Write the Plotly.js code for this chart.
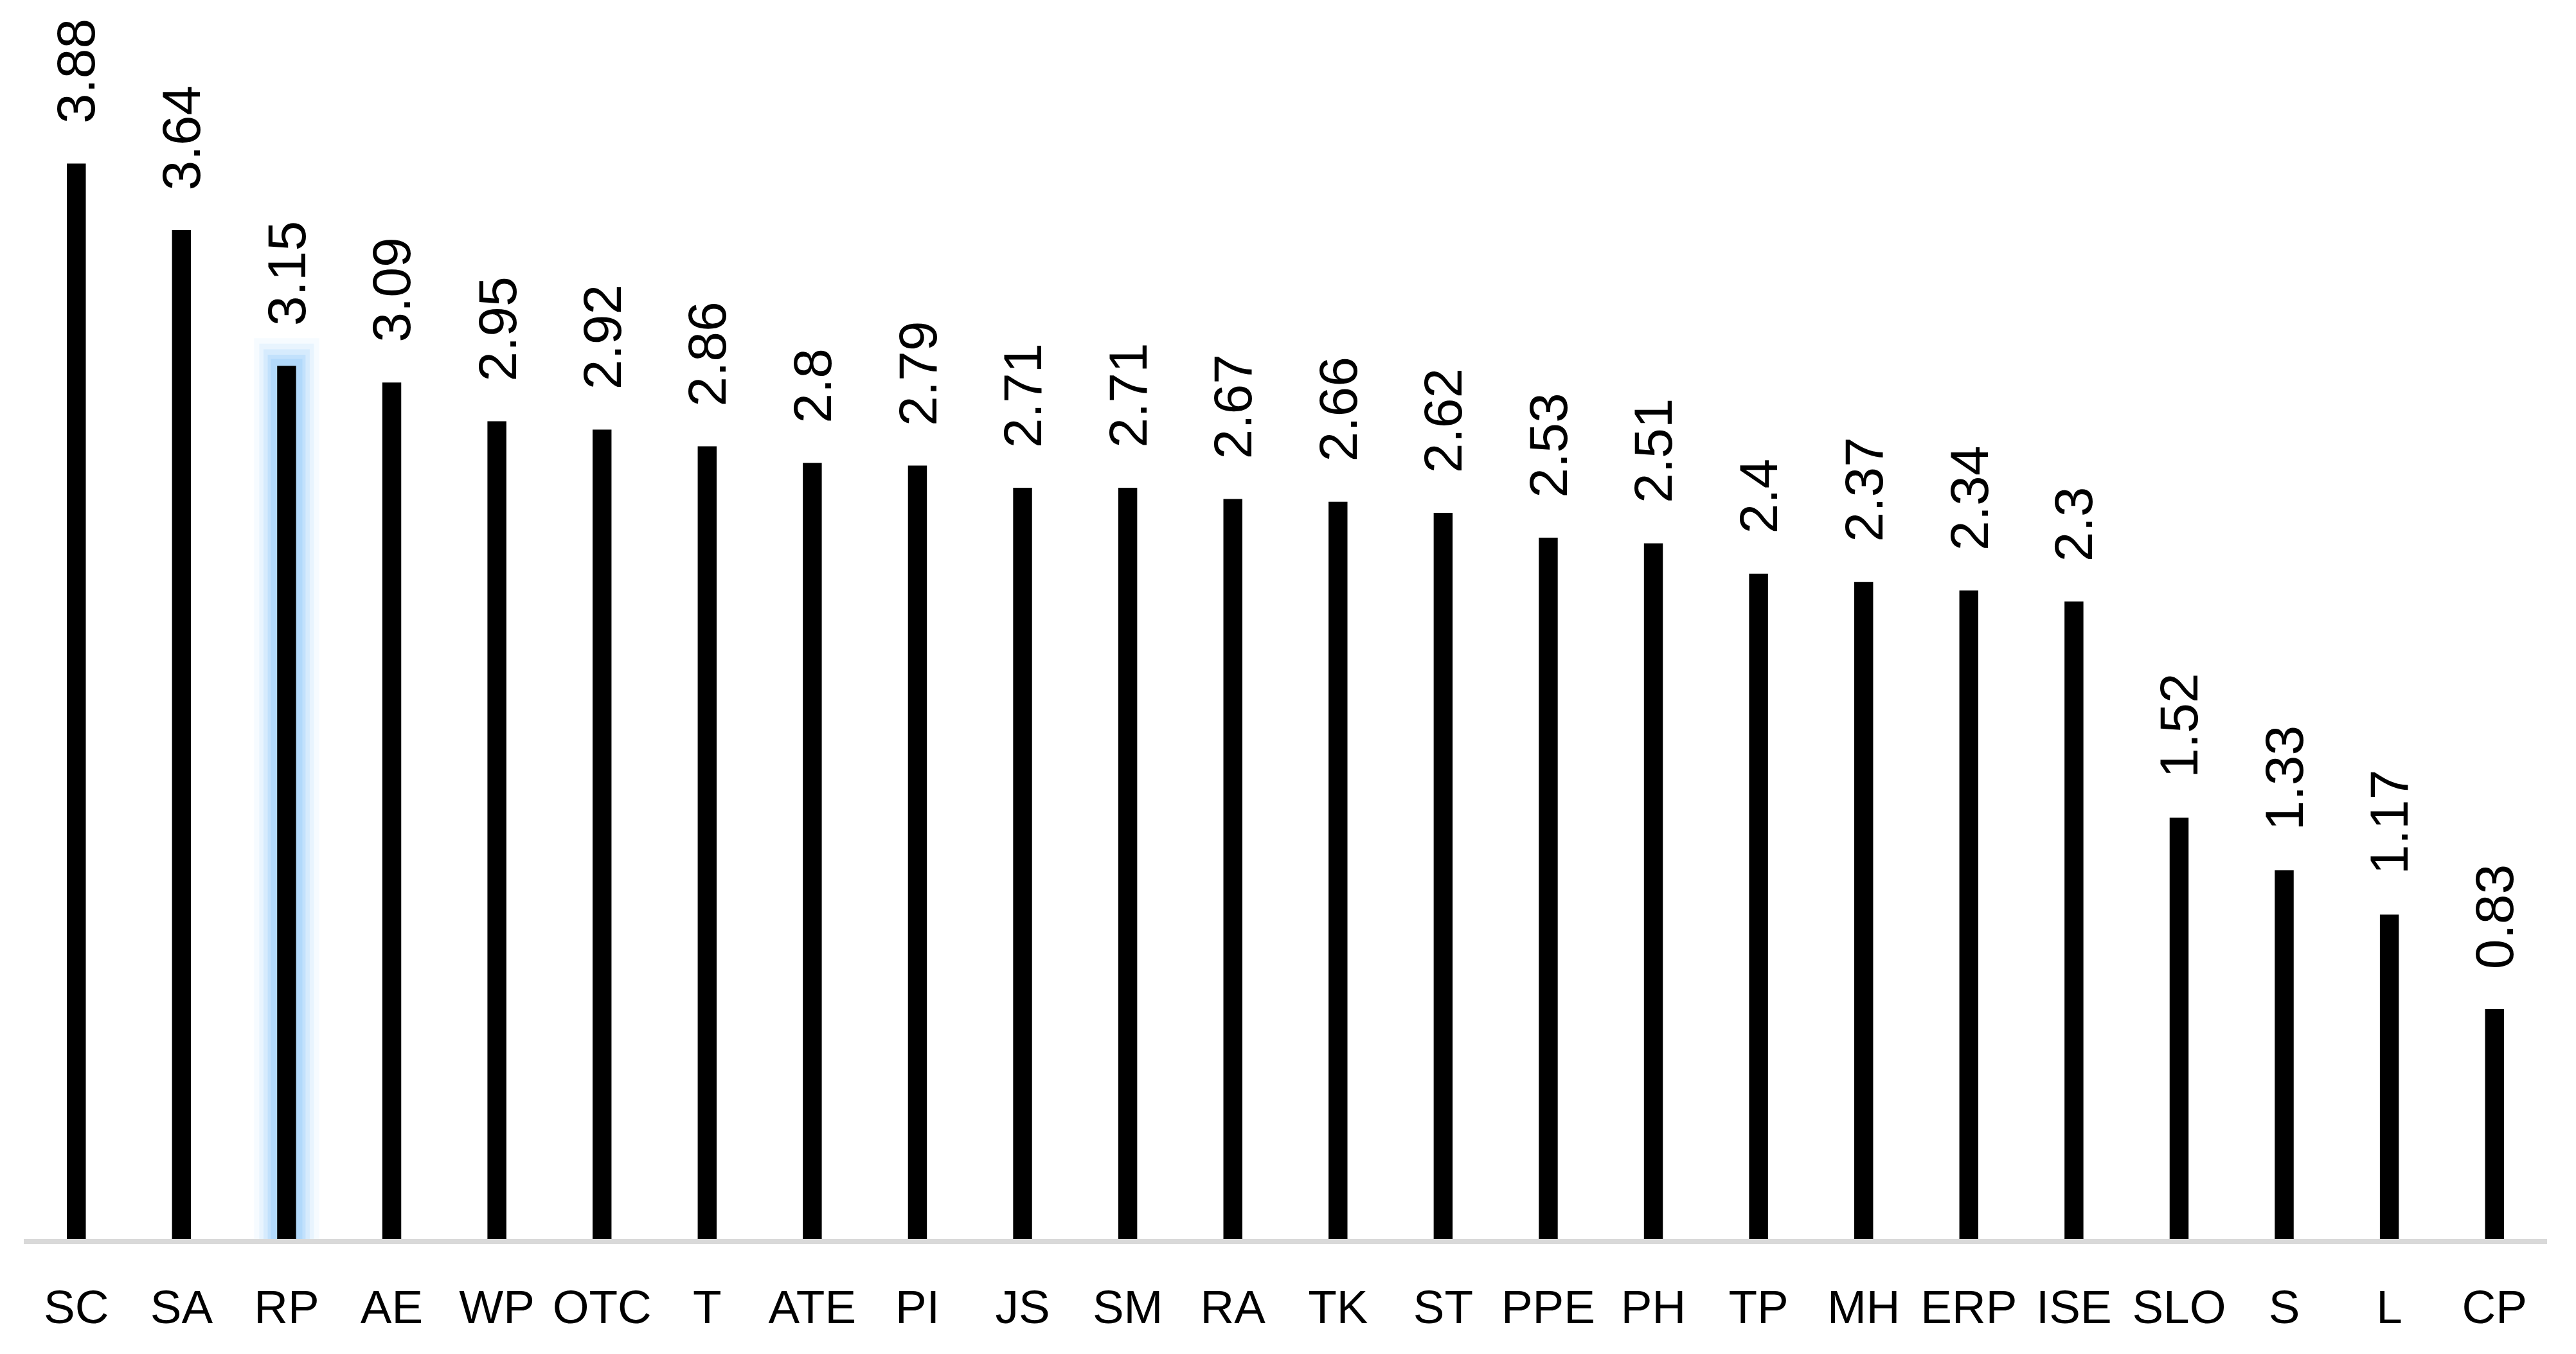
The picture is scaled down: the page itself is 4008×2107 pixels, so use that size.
<!DOCTYPE html>
<html>
<head>
<meta charset="utf-8">
<script src="https://cdn.plot.ly/plotly-3.0.1.min.js"></script>
<style>
  html, body { margin: 0; padding: 0; background: #fff; }
  #plotArea { width: 4008px; height: 2107px; }
</style>
</head>
<body>
<div id="plotArea"></div>
<script>
// categories and scores
var categories = ["SC", "SA", "RP", "AE", "WP", "OTC", "T", "ATE", "PI", "JS", "SM", "RA",
                  "TK", "ST", "PPE", "PH", "TP", "MH", "ERP", "ISE", "SLO", "S", "L", "CP"];
var scores = [3.88, 3.64, 3.15, 3.09, 2.95, 2.92, 2.86, 2.8, 2.79, 2.71, 2.71, 2.67,
              2.66, 2.62, 2.53, 2.51, 2.4, 2.37, 2.34, 2.3, 1.52, 1.33, 1.17, 0.83];
var highlighted = "RP";

// soft glow behind the highlighted bar: a few stacked layers, widest/palest first
var glowWidths = [0.62, 0.52, 0.44, 0.36, 0.30];
var glowPads = [0.10, 0.08, 0.06, 0.04, 0.025];
var glowColors = ["#f6fbff", "#e8f4fe", "#d6ebfd", "#c2e1fc", "#b2d9fb"];

var glowTraces = glowWidths.map(function(w, k){
    return {
        x: categories,
        y: scores.map(function(v, i){ return categories[i] === highlighted ? v + glowPads[k] : null; }),
        type: "bar",
        width: w,
        marker: {color: glowColors[k]},
        hoverinfo: "skip"
    };
});

var trace = {
    x: categories,
    y: scores,
    type: "bar",
    width: 0.18,
    marker: {color: "#000000"},
    hoverinfo: "x+y"
};

// value labels, rotated, a bit above each bar
var labels = categories.map(function(c, i){
    return {
        x: c,
        y: scores[i],
        text: String(scores[i]),
        textangle: -90,
        showarrow: false,
        xanchor: "center",
        yanchor: "bottom",
        yshift: 60,
        font: {family: "Liberation Sans, Arial, sans-serif", size: 84, color: "#000"}
    };
});

var layout = {
    width: 4008,
    height: 2107,
    margin: {l: 37, r: 45, t: 0, b: 179},
    paper_bgcolor: "#ffffff",
    plot_bgcolor: "#ffffff",
    barmode: "overlay",
    showlegend: false,
    xaxis: {
        type: "category",
        showline: true,
        linecolor: "#d9d9d9",
        linewidth: 8,
        ticks: "",
        showgrid: false,
        zeroline: false,
        ticklabelstandoff: 35,
        tickfont: {family: "Liberation Sans, Arial, sans-serif", size: 73, color: "#000"}
    },
    yaxis: {
        range: [0, 4.47],
        showgrid: false,
        zeroline: false,
        showticklabels: false,
        ticks: "",
        showline: false
    },
    annotations: labels
};

Plotly.newPlot("plotArea", glowTraces.concat([trace]), layout, {displayModeBar: false});
</script>
</body>
</html>
